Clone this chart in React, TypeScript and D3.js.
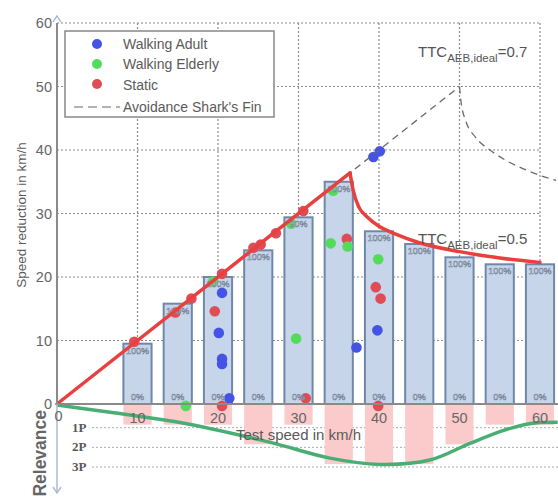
import React from "react";
import * as d3 from "d3";

const W = 558;
const H = 496;

// Test speeds (km/h) and measured speed reduction per test (bars)
const speeds = [10, 15, 20, 25, 30, 35, 40, 45, 50, 55, 60];
const barValues = [9.5, 15.8, 20.0, 24.2, 29.4, 35.0, 27.2, 25.2, 23.1, 22.0, 22.0];
const topLabels = ["100%", "100%", "100%", "100%", "90%", "100%", "100%", "100%", "100%", "100%", "100%"];
const bottomLabels = ["0%", "0%", "0%", "0%", "0%", "0%", "0%", "0%", "0%", "0%", "0%"];
const relevance = [1, 1, 1, 2, 1, 3, 3, 3, 2, 1, 1];

const yTicks = [0, 10, 20, 30, 40, 50, 60];
const xTicks = [0, 10, 20, 30, 40, 50, 60];
const gridValues = [10, 20, 30, 40, 50, 60];
const relevanceLevels = ["1P", "2P", "3P"];

// TTC 0.5 curve (red): rising then falling
const redRise: [number, number][] = [[0, 0], [36.4, 36.4]];
const redFall: [number, number][] = [
  [36.4, 36.4], [36.8, 33.6], [37.5, 31.0], [38.5, 29.5], [40, 28.0], [42, 26.8],
  [45, 25.4], [50, 24.0], [55, 23.0], [60, 22.3],
];
// Avoidance shark's fin (TTC 0.7, dashed)
const finRise: [number, number][] = [[37, 37], [50, 50]];
const finFall: [number, number][] = [
  [50, 50], [50.2, 47.5], [50.8, 44.5], [52, 42.0], [54, 39.8], [56, 38.2],
  [58, 37.0], [60, 36.0], [62, 35.2],
];
// Relevance curve (green)
const relevanceCurve: [number, number][] = [
  [0, 0], [8, 0.45], [16.1, 0.95], [26.5, 1.9], [33.9, 2.7], [40.1, 3.02],
  [46.3, 2.8], [51.3, 1.95], [55.4, 1.3], [58.7, 0.95], [62.2, 0.88],
];

const walkingAdult: [number, number][] = [
  [39.3, 38.9], [40.1, 39.8], [20.5, 17.5], [20.1, 11.2], [20.5, 7.1], [20.5, 6.3],
  [21.4, 0.9], [37.2, 8.9], [39.8, 11.6],
];
const walkingElderly: [number, number][] = [
  [16.0, -0.3], [19.4, 19.3], [29.1, 28.4], [34.3, 33.6], [29.7, 10.3], [34.0, 25.3],
  [36.1, 24.8], [39.9, 22.8],
];
const staticPts: [number, number][] = [
  [9.6, 9.8], [14.7, 14.4], [16.7, 16.6], [19.6, 14.6], [20.5, 20.5], [20.5, -0.3],
  [24.4, 24.6], [25.3, 25.1], [27.2, 26.9], [30.6, 30.4], [36.0, 26.0], [39.6, 18.4],
  [40.2, 16.6], [39.9, -0.3], [30.9, 0.9],
];

const COLORS = {
  adult: "#4452e6",
  elderly: "#52dc5a",
  static: "#e04c55",
  bar: "#c6d5ea",
  barStroke: "#7088a8",
  pink: "#fbcacb",
  red: "#e8403e",
  green: "#4aae74",
  grid: "#8a8a8a",
  text: "#5a5a5a",
};

const FONT = "'Liberation Sans', Arial, sans-serif";

export default function App() {
  const x = d3.scaleLinear().domain([0, 60]).range([57, 540]);
  const y = d3.scaleLinear().domain([0, 60]).range([404, 23]);
  const yR = d3.scaleLinear().domain([0, 3]).range([405, 464]);

  const lin = d3.line<[number, number]>().x((d) => x(d[0])).y((d) => y(d[1]));
  const mono = d3
    .line<[number, number]>()
    .x((d) => x(d[0]))
    .y((d) => y(d[1]))
    .curve(d3.curveMonotoneX);
  const relLine = d3
    .line<[number, number]>()
    .x((d) => x(d[0]))
    .y((d) => yR(d[1]))
    .curve(d3.curveCatmullRom.alpha(0.5));

  const barHalf = (x(3.5) - x(0)) / 2;

  const dots = (pts: [number, number][], color: string, key: string) =>
    pts.map((p, i) => (
      <circle key={key + i} cx={x(p[0])} cy={y(p[1])} r={5.3} fill={color} />
    ));

  return (
    <svg
      width={W}
      height={H}
      style={{ position: "absolute", left: 0, top: 0, background: "#fff" }}
      fontFamily={FONT}
    >
      <rect x={0} y={0} width={W} height={H} fill="#fff" />

      {/* grid */}
      {gridValues.map((v) => (
        <line
          key={"gh" + v}
          x1={x(0)}
          x2={x(60)}
          y1={y(v)}
          y2={y(v)}
          stroke={COLORS.grid}
          strokeWidth={1.2}
          strokeDasharray="2,2"
        />
      ))}
      {gridValues.map((v) => (
        <line
          key={"gv" + v}
          x1={x(v)}
          x2={x(v)}
          y1={y(60)}
          y2={y(0)}
          stroke={COLORS.grid}
          strokeWidth={1.2}
          strokeDasharray="2,2"
        />
      ))}

      {/* relevance rows */}
      {relevanceLevels.map((lab, i) => (
        <g key={lab}>
          <line
            x1={92}
            x2={W}
            y1={yR(i + 1) + 3}
            y2={yR(i + 1) + 3}
            stroke="#aaa"
            strokeWidth={1}
            strokeDasharray="2,2"
          />
          <text
            x={72}
            y={yR(i + 1) + 7}
            fontFamily="'Liberation Serif', 'DejaVu Serif', serif"
            fontWeight="bold"
            fontSize={13}
            fill={COLORS.text}
          >
            {lab}
          </text>
        </g>
      ))}

      {/* relevance pink bars */}
      {speeds.map((s, i) => (
        <rect
          key={"rb" + s}
          x={x(s) - barHalf}
          y={yR(0)}
          width={barHalf * 2}
          height={yR(relevance[i]) - yR(0)}
          fill={COLORS.pink}
        />
      ))}

      {/* bars */}
      {speeds.map((s, i) => (
        <rect
          key={"b" + s}
          x={x(s) - barHalf}
          y={y(barValues[i])}
          width={barHalf * 2}
          height={y(0) - y(barValues[i])}
          fill={COLORS.bar}
          stroke={COLORS.barStroke}
          strokeWidth={2}
        />
      ))}

      {/* scatter points */}
      {dots(staticPts, COLORS.static, "s")}
      {dots(walkingElderly, COLORS.elderly, "e")}
      {dots(walkingAdult, COLORS.adult, "a")}

      {/* bar labels */}
      {speeds.map((s, i) => (
        <g key={"bl" + s}>
          <text
            x={x(s)}
            y={y(barValues[i]) + 10}
            textAnchor="middle"
            fontSize={9}
            fill="#f4f6fb"
            stroke="#7d8aa0"
            strokeWidth={0.6}
          >
            {topLabels[i]}
          </text>
          <text
            x={x(s)}
            y={y(0) - 4}
            textAnchor="middle"
            fontSize={9}
            fill="#f4f6fb"
            stroke="#7d8aa0"
            strokeWidth={0.6}
          >
            {bottomLabels[i]}
          </text>
        </g>
      ))}

      {/* red TTC 0.5 line */}
      <path d={lin(redRise) || ""} fill="none" stroke={COLORS.red} strokeWidth={3.5} strokeLinecap="round" />
      <path d={mono(redFall) || ""} fill="none" stroke={COLORS.red} strokeWidth={3.5} strokeLinecap="round" />

      {/* shark fin dashed */}
      <path d={lin(finRise) || ""} fill="none" stroke="#6a6a6a" strokeWidth={1.3} strokeDasharray="7,5" />
      <path d={mono(finFall) || ""} fill="none" stroke="#6a6a6a" strokeWidth={1.3} strokeDasharray="7,5" />

      {/* relevance curve */}
      <path d={relLine(relevanceCurve) || ""} fill="none" stroke={COLORS.green} strokeWidth={3.5} />

      {/* axes */}
      <line x1={x(0)} x2={W} y1={y(0)} y2={y(0)} stroke="#8a8a8a" strokeWidth={2} />
      <line x1={x(0)} x2={x(0)} y1={y(60)} y2={y(0)} stroke="#8a8a8a" strokeWidth={2} />
      <polyline
        points={`${x(0) - 4},${y(60) - 1} ${x(0)},${y(60) - 7} ${x(0) + 4},${y(60) - 1}`}
        fill="none"
        stroke="#9ab4d6"
        strokeWidth={1.3}
      />
      <line x1={x(0)} x2={x(0)} y1={y(0)} y2={493} stroke="#aebcd0" strokeWidth={1.5} />
      <polyline
        points={`${x(0) - 4},487 ${x(0)},493 ${x(0) + 4},487`}
        fill="none"
        stroke="#aebcd0"
        strokeWidth={1.5}
      />

      {/* tick labels */}
      {yTicks.map((v) => (
        <text
          key={"yt" + v}
          x={52}
          y={y(v) + 5}
          textAnchor="end"
          fontSize={14.5}
          fill="#666"
        >
          {v}
        </text>
      ))}
      {xTicks.map((v) => (
        <text
          key={"xt" + v}
          x={x(v) + (v === 0 ? 1.5 : 0)}
          y={v === 0 ? 421 : 423}
          textAnchor="middle"
          fontSize={14.5}
          fill="#666"
        >
          {v}
        </text>
      ))}

      {/* axis titles */}
      <text
        transform="translate(26,215) rotate(-90)"
        textAnchor="middle"
        fontSize={13.5}
        fill={COLORS.text}
      >
        Speed reduction in km/h
      </text>
      <text
        transform="translate(46,410) rotate(-90)"
        textAnchor="end"
        fontSize={17.5}
        fontWeight="bold"
        fill="#666"
      >
        Relevance
      </text>
      <text x={236} y={440} fontSize={15} fill={COLORS.text}>
        Test speed in km/h
      </text>

      {/* TTC labels */}
      <text x={418} y={57} fontSize={15} fill="#555">
        TTC
        <tspan fontSize={11.5} dy={5}>AEB,ideal</tspan>
        <tspan dy={-5}>=0.7</tspan>
      </text>
      <text x={418} y={244} fontSize={15} fill="#555">
        TTC
        <tspan fontSize={11.5} dy={5}>AEB,ideal</tspan>
        <tspan dy={-5}>=0.5</tspan>
      </text>

      {/* legend */}
      <rect x={65} y={31} width={209} height={86} fill="#fff" stroke="#888" strokeWidth={1.5} />
      <circle cx={97} cy={44} r={5} fill={COLORS.adult} />
      <circle cx={97} cy={64} r={5} fill={COLORS.elderly} />
      <circle cx={97} cy={84} r={5} fill={COLORS.static} />
      <line x1={74} x2={120} y1={107} y2={107} stroke="#666" strokeWidth={1.2} strokeDasharray="9,5" />
      <text x={123} y={49} fontSize={14} fill={COLORS.text}>Walking Adult</text>
      <text x={123} y={69} fontSize={14} fill={COLORS.text}>Walking Elderly</text>
      <text x={123} y={90} fontSize={14} fill={COLORS.text}>Static</text>
      <text x={123} y={112} fontSize={14} fill={COLORS.text}>Avoidance Shark's Fin</text>
    </svg>
  );
}
